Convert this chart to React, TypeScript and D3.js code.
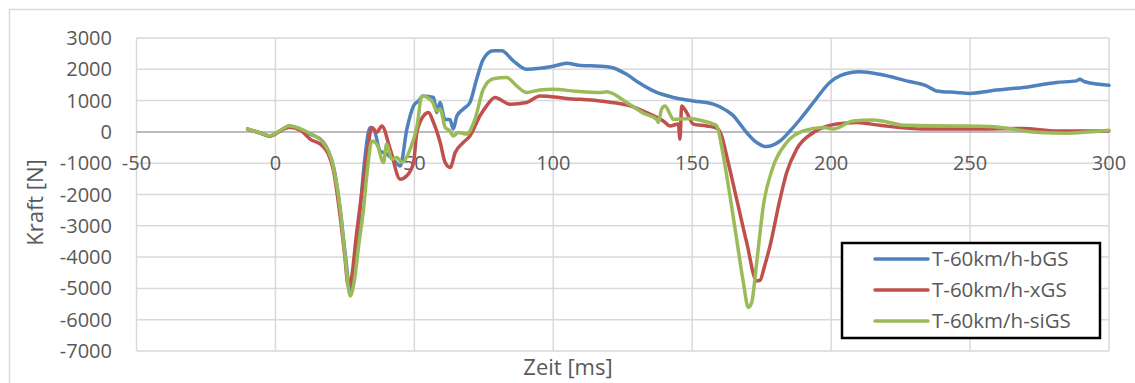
import React from 'react';
import * as d3 from 'd3';

// series (time in ms, force in N)
const bgsTime = [-10, -6, -2, 2, 5, 9, 12.5, 17, 19, 21, 23.3, 25, 27, 28.5, 30.5, 32, 34.1, 35.5, 37.7, 40, 42.5, 44.9, 47.3, 49.7, 51.5, 53.2, 56.9, 58.1, 59.2, 61, 62.8, 64, 65.3, 67.6, 70, 72.4, 74.8, 78.4, 81.4, 85.6, 90.4, 95.2, 100, 104.8, 110, 116.8, 121, 126.4, 131, 136, 143.2, 150.4, 157.6, 162.4, 165, 167.2, 169.6, 173.2, 176.8, 179, 181.6, 185.2, 189, 193.6, 199.5, 203.1, 210.3, 217.5, 227.1, 234.3, 237.9, 245.1, 249.9, 257.1, 269.1, 281.1, 288.3, 289.5, 291, 300];
const bgsForce = [90, -20, -130, 50, 190, 80, -70, -300, -600, -1150, -2470, -3800, -5090, -4200, -2470, -1000, 140, 60, -610, -700, -900, -1090, 86, 830, 990, 1150, 1100, 620, 940, 400, 400, 90, 510, 730, 940, 1680, 2320, 2590, 2590, 2270, 2000, 2030, 2100, 2190, 2120, 2100, 2060, 1840, 1560, 1310, 1100, 990, 885, 680, 500, 250, -20, -340, -470, -420, -290, 30, 420, 940, 1580, 1790, 1920, 1840, 1630, 1470, 1310, 1260, 1230, 1310, 1420, 1580, 1630, 1680, 1610, 1490];

const xgsTime = [-10, -6, -2, 2, 5, 9, 12.5, 17, 19, 20.8, 23.3, 25, 26.2, 27.5, 29, 31, 33, 34.7, 36.5, 38.3, 41.3, 44.9, 47.3, 49.7, 50.9, 53.3, 55.1, 56.9, 59.3, 61.1, 62.9, 64.7, 67.6, 70, 73.6, 76, 79, 84.4, 90.4, 95.2, 104.8, 116.8, 122, 127.6, 133.6, 139.6, 142, 145, 145.6, 146.2, 148, 150.4, 155.2, 158.8, 160.5, 162.4, 166, 169.6, 173.2, 174.4, 176, 178, 181.6, 184, 187.6, 193.6, 202, 209.2, 217.5, 233.1, 251.1, 269.1, 281.1, 300];
const xgsForce = [90, -20, -130, 40, 150, 50, -230, -450, -700, -1200, -2700, -4000, -4930, -4600, -3400, -2000, -700, 140, -10, 190, -550, -1510, -1400, -980, -20, 510, 620, 300, -340, -980, -1140, -660, -340, -130, 510, 830, 1100, 885, 940, 1150, 1070, 990, 930, 830, 620, 350, 190, 250, -230, 830, 620, 250, 190, 120, -100, -770, -2150, -3530, -4760, -4740, -4300, -3640, -2150, -1300, -550, -20, 250, 300, 210, 90, 90, 110, 30, 30];

const sigsTime = [-10, -6, -2, 2, 5, 9, 12.5, 17, 19, 20.8, 23.3, 25, 26.9, 28.5, 30, 31.7, 33, 34.7, 36.5, 38.9, 40, 41.9, 43.7, 45.5, 48.5, 51, 52.7, 56.3, 58.1, 59.3, 61.1, 62.8, 64, 65.8, 68.8, 71.8, 74.8, 78.4, 83.2, 86.8, 90.4, 95.2, 100, 108, 116.8, 119.2, 126.4, 132.4, 137.2, 137.8, 139, 140.2, 142, 143.2, 149.2, 154, 157.6, 158.8, 161.2, 163.6, 166, 168.4, 170.2, 171.4, 173.2, 175.6, 179.2, 184, 190, 197.2, 200.7, 207.9, 215.1, 227.1, 245.1, 257.1, 275.1, 284.7, 300];
const sigsForce = [100, -20, -120, 60, 200, 100, -50, -330, -600, -1100, -2470, -3900, -5240, -4700, -3600, -2470, -1300, -290, -390, -980, -390, -870, -820, -980, -550, 200, 1150, 990, 670, 730, 140, 30, -130, -20, -70, 400, 1360, 1700, 1740, 1470, 1260, 1340, 1360, 1300, 1260, 1280, 940, 600, 400, 300, 730, 830, 570, 400, 430, 350, 250, 190, -770, -2050, -3430, -4810, -5610, -5450, -4170, -2360, -1090, -340, 30, 140, 90, 350, 380, 210, 190, 170, -20, -40, 50];

const seriesNames = ['T-60km/h-bGS', 'T-60km/h-xGS', 'T-60km/h-siGS'];
const seriesColors = ['#4f81bd', '#c0504d', '#9bbb59'];
const xTicks = [-50, 0, 50, 100, 150, 200, 250, 300];
const yTicks = [3000, 2000, 1000, 0, -1000, -2000, -3000, -4000, -5000, -6000, -7000];

const W = 1135;
const H = 383;
const font = '"Open Sans", sans-serif';
const textColor = '#595959';

export default function App() {
  const x = d3.scaleLinear().domain([-50, 300]).range([136.5, 1109]);
  const y = d3.scaleLinear().domain([-7000, 3000]).range([351, 38]);

  const line = d3.line<[number, number]>()
    .x(d => x(d[0]))
    .y(d => y(d[1]))
    .curve(d3.curveMonotoneX);

  const series = [
    d3.zip(bgsTime, bgsForce),
    d3.zip(xgsTime, xgsForce),
    d3.zip(sigsTime, sigsForce),
  ] as [number, number][][];

  return (
    <div style={{ position: 'absolute', left: 0, top: 0 }}>
      <svg width={W} height={H} style={{ display: 'block', background: '#fff' }}>
        <rect x={9.5} y={9.5} width={1140} height={400} fill="#fff" stroke="#d9d9d9" strokeWidth={1.5} />

        {/* grid */}
        {yTicks.filter(t => t !== 0).map(t => (
          <line key={'gy' + t} x1={x(-50)} x2={x(300)} y1={y(t)} y2={y(t)} stroke="#d9d9d9" strokeWidth={1.5} />
        ))}
        {xTicks.map(t => (
          <line key={'gx' + t} x1={x(t)} x2={x(t)} y1={y(3000)} y2={y(-7000)} stroke="#d9d9d9" strokeWidth={1.5} />
        ))}
        <line x1={x(-50)} x2={x(300)} y1={y(0)} y2={y(0)} stroke="#a6a6a6" strokeWidth={1.5} />

        {/* y tick labels */}
        {yTicks.map(t => (
          <text key={'ty' + t} x={112} y={y(t) + 7} textAnchor="end" fontFamily={font} fontSize={20} fill={textColor}>
            {t}
          </text>
        ))}
        {/* x tick labels, sitting under the zero line */}
        {xTicks.map(t => (
          <text key={'tx' + t} x={x(t)} y={y(0) + 38} textAnchor="middle" fontFamily={font} fontSize={20} fill={textColor}>
            {t}
          </text>
        ))}

        {/* lines */}
        {series.map((s, i) => (
          <path key={seriesNames[i]} d={line(s) || ''} fill="none" stroke={seriesColors[i]} strokeWidth={3.5} strokeLinejoin="round" strokeLinecap="round" />
        ))}

        {/* axis titles */}
        <text transform={`translate(43,${(y(3000) + y(-7000)) / 2 + 8}) rotate(-90)`} textAnchor="middle" fontFamily={font} fontSize={22} fill={textColor}>
          Kraft [N]
        </text>
        <text x={568} y={375} textAnchor="middle" fontFamily={font} fontSize={22} fill={textColor}>
          Zeit [ms]
        </text>

        {/* legend */}
        <rect x={842} y={243} width={258} height={95} fill="#fff" stroke="#000" strokeWidth={2.5} />
        {seriesNames.map((n, i) => (
          <g key={'lg' + n}>
            <line x1={875} x2={928} y1={259 + i * 31} y2={259 + i * 31} stroke={seriesColors[i]} strokeWidth={3.5} strokeLinecap="round" />
            <text x={932} y={259 + i * 31 + 7} fontFamily={font} fontSize={20.5} fill={textColor}>
              {n}
            </text>
          </g>
        ))}
      </svg>
    </div>
  );
}
